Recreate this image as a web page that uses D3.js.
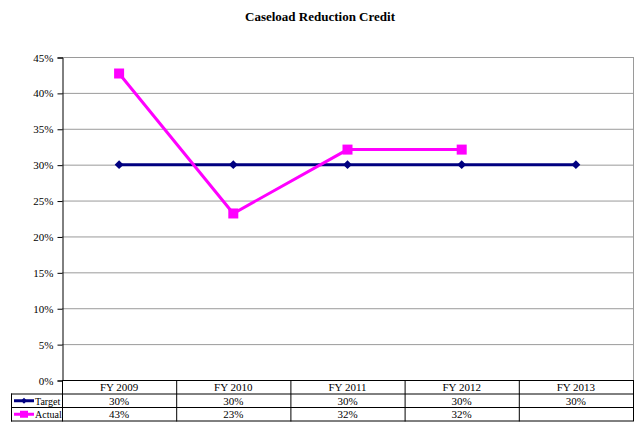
<!DOCTYPE html>
<html>
<head>
<meta charset="utf-8">
<script src="https://cdn.jsdelivr.net/npm/d3@7"></script>
<style>
  body { margin: 0; background: #fff; }
  text { font-family: "Liberation Serif", "Times New Roman", serif; }
</style>
</head>
<body>
<div id="chart"></div>
<script>
var categories = ["FY 2009", "FY 2010", "FY 2011", "FY 2012", "FY 2013"];
var target = [30, 30, 30, 30, 30];
var actual = [42.7, 23.2, 32.1, 32.1, null];
var targetLabels = ["30%", "30%", "30%", "30%", "30%"];
var actualLabels = ["43%", "23%", "32%", "32%", ""];
var yTicks = [0, 5, 10, 15, 20, 25, 30, 35, 40, 45];

var W = 640, H = 435;
var margin = { top: 57, right: 7, bottom: 55, left: 62 },
    width = W - margin.left - margin.right,
    height = H - margin.top - margin.bottom;

var svg = d3.select("#chart")
    .append("svg")
    .attr("width", W)
    .attr("height", H);

svg.append("text")
    .attr("x", 320)
    .attr("y", 21)
    .attr("text-anchor", "middle")
    .style("font-size", "13px")
    .style("font-weight", "bold")
    .text("Caseload Reduction Credit");

var g = svg.append("g")
    .attr("transform", "translate(" + margin.left + "," + margin.top + ")");

var x = d3.scaleBand()
    .domain(categories)
    .range([0, width]);

var y = d3.scaleLinear()
    .domain([0, 45])
    .range([height, 0]);

// gridlines
g.selectAll(".grid")
    .data(yTicks)
    .enter()
    .append("line")
    .attr("x1", 0)
    .attr("x2", width)
    .attr("y1", function (d) { return y(d) + 0.5; })
    .attr("y2", function (d) { return y(d) + 0.5; })
    .attr("stroke", "#9a9a9a")
    .attr("stroke-width", 1);

// right border of plot
g.append("line")
    .attr("x1", width + 0.5).attr("x2", width + 0.5)
    .attr("y1", 0).attr("y2", height)
    .attr("stroke", "#9a9a9a");

// Y axis
var yAxis = g.append("g")
    .attr("transform", "translate(0.5,0.5)")
    .call(d3.axisLeft(y)
        .tickValues(yTicks)
        .tickSize(5)
        .tickPadding(4)
        .tickFormat(function (d) { return d + "%"; }));
yAxis.selectAll("text").style("font-size", "11px").attr("fill", "#000");
yAxis.select(".domain").attr("stroke", "#000");

// lines
var idx = d3.range(categories.length);
var line = function (vals) {
    return d3.line()
        .defined(function (i) { return vals[i] != null; })
        .x(function (i) { return x(categories[i]) + x.bandwidth() / 2; })
        .y(function (i) { return y(vals[i]); });
};

g.append("path")
    .datum(idx)
    .attr("fill", "none")
    .attr("stroke", "#000080")
    .attr("stroke-width", 3)
    .attr("d", line(target));

g.append("path")
    .datum(idx)
    .attr("fill", "none")
    .attr("stroke", "#ff00ff")
    .attr("stroke-width", 3)
    .attr("d", line(actual));

// markers
g.selectAll(".tgt")
    .data(idx)
    .enter()
    .append("path")
    .attr("d", d3.symbol().type(d3.symbolDiamond2).size(50))
    .attr("transform", function (i) {
        return "translate(" + (x(categories[i]) + x.bandwidth() / 2) + "," + y(target[i]) + ")";
    })
    .attr("fill", "#000080");

g.selectAll(".act")
    .data(idx.filter(function (i) { return actual[i] != null; }))
    .enter()
    .append("rect")
    .attr("x", function (i) { return x(categories[i]) + x.bandwidth() / 2 - 5; })
    .attr("y", function (i) { return y(actual[i]) - 5; })
    .attr("width", 10)
    .attr("height", 10)
    .attr("fill", "#ff00ff");

// data table
var rowH = 13.5;
var tableTop = height;
var t = g.append("g").attr("transform", "translate(0," + tableTop + ")");
var legendLeft = 11 - margin.left;

// horizontal lines
t.append("line").attr("x1", 0).attr("x2", width).attr("y1", 0.5).attr("y2", 0.5).attr("stroke", "#000");
t.append("line").attr("x1", legendLeft).attr("x2", width).attr("y1", rowH + 0.5).attr("y2", rowH + 0.5).attr("stroke", "#000");
t.append("line").attr("x1", legendLeft).attr("x2", width).attr("y1", 2 * rowH + 0.5).attr("y2", 2 * rowH + 0.5).attr("stroke", "#000");
t.append("line").attr("x1", legendLeft).attr("x2", width).attr("y1", 3 * rowH + 0.5).attr("y2", 3 * rowH + 0.5).attr("stroke", "#000");
// vertical lines
t.append("line").attr("x1", legendLeft + 0.5).attr("x2", legendLeft + 0.5).attr("y1", rowH).attr("y2", 3 * rowH + 1).attr("stroke", "#000");
t.selectAll(".vl")
    .data(categories.concat(["end"]))
    .enter()
    .append("line")
    .attr("x1", function (d, i) { return i * x.bandwidth() + 0.5; })
    .attr("x2", function (d, i) { return i * x.bandwidth() + 0.5; })
    .attr("y1", 0)
    .attr("y2", 3 * rowH + 1)
    .attr("stroke", "#000");

t.selectAll(".cat")
    .data(categories)
    .enter()
    .append("text")
    .attr("x", function (d) { return x(d) + x.bandwidth() / 2; })
    .attr("y", rowH - 2.5)
    .attr("text-anchor", "middle")
    .style("font-size", "11px")
    .text(function (d) { return d; });

t.selectAll(".tl")
    .data(targetLabels)
    .enter()
    .append("text")
    .attr("x", function (d, i) { return x(categories[i]) + x.bandwidth() / 2; })
    .attr("y", 2 * rowH - 2.5)
    .attr("text-anchor", "middle")
    .style("font-size", "11px")
    .text(function (d) { return d; });

t.selectAll(".al")
    .data(actualLabels)
    .enter()
    .append("text")
    .attr("x", function (d, i) { return x(categories[i]) + x.bandwidth() / 2; })
    .attr("y", 3 * rowH - 2.5)
    .attr("text-anchor", "middle")
    .style("font-size", "11px")
    .text(function (d) { return d; });

// legend keys in table
var keyY1 = rowH + rowH / 2 + 0.5, keyY2 = 2 * rowH + rowH / 2 + 0.5;
t.append("line").attr("x1", legendLeft + 3).attr("x2", legendLeft + 23).attr("y1", keyY1).attr("y2", keyY1)
    .attr("stroke", "#000080").attr("stroke-width", 3);
t.append("path").attr("d", d3.symbol().type(d3.symbolDiamond2).size(22))
    .attr("transform", "translate(" + (legendLeft + 13) + "," + keyY1 + ")").attr("fill", "#000080");
t.append("text").attr("x", legendLeft + 24).attr("y", 2 * rowH - 2.5).style("font-size", "10px").text("Target");

t.append("line").attr("x1", legendLeft + 3).attr("x2", legendLeft + 23).attr("y1", keyY2).attr("y2", keyY2)
    .attr("stroke", "#ff00ff").attr("stroke-width", 3);
t.append("rect").attr("x", legendLeft + 9).attr("y", keyY2 - 3.5).attr("width", 8).attr("height", 7).attr("fill", "#ff00ff");
t.append("text").attr("x", legendLeft + 24).attr("y", 3 * rowH - 2.5).style("font-size", "10px").text("Actual");
</script>
</body>
</html>
